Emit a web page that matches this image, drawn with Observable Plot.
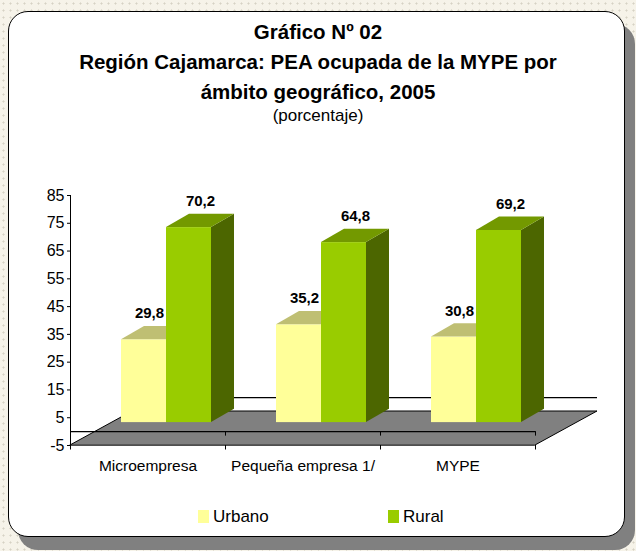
<!DOCTYPE html>
<html>
<head>
<meta charset="utf-8">
<script src="https://cdn.jsdelivr.net/npm/d3@7"></script>
<script src="https://cdn.jsdelivr.net/npm/@observablehq/plot@0.6"></script>
<style>
html, body { margin: 0; padding: 0; }
body {
  width: 636px; height: 551px; overflow: hidden; position: relative;
  font-family: "Liberation Sans", Arial, sans-serif;
  background-color: #f6f3e9;
  background-image: radial-gradient(circle, #d6d2c4 0.8px, transparent 1.3px);
  background-size: 7px 7px;
}
#frame {
  position: absolute; left: 8px; top: 11px; width: 615px; height: 524px;
  border: 1.5px solid #000; border-radius: 20px; background: #fff;
  box-shadow: 10px 13px 0 0 #808080;
}
.t { position: absolute; left: 0; width: 636px; text-align: center; color: #000; white-space: nowrap; }
.h { font-weight: bold; font-size: 20.5px; line-height: 30px; }
.s { font-size: 17px; line-height: 20px; }
#chart { position: absolute; left: 10px; top: 180px; }
.sw { position: absolute; width: 11px; height: 13px; top: 510px; }
.lt { position: absolute; top: 507px; font-size: 17px; line-height: 20px; color: #000; white-space: nowrap; }
</style>
</head>
<body>
<div id="frame"></div>
<div class="t h" style="top:17px">Gráfico Nº 02</div>
<div class="t h" style="top:47px">Región Cajamarca: PEA ocupada de la MYPE por</div>
<div class="t h" style="top:77px">ámbito geográfico, 2005</div>
<div class="t s" style="top:106px">(porcentaje)</div>
<div id="chart"></div>
<div class="sw" style="left:198px;background:#FFFF99"></div>
<div class="lt" style="left:213px">Urbano</div>
<div class="sw" style="left:388px;background:#99CC00"></div>
<div class="lt" style="left:403px">Rural</div>
<script>
// ---- data ----
const categories = ["Microempresa", "Pequeña empresa 1/", "MYPE"];
const series = ["Urbano", "Rural"];
const urbano = [29.8, 35.2, 30.8];
const rural = [70.2, 64.8, 69.2];
const yTicks = [-5, 5, 15, 25, 35, 45, 55, 65, 75, 85];

// ---- styles ----
const colors = {
  Urbano: { front: "#FFFF99", top: "#BFBF73", side: "#80804C" },
  Rural:  { front: "#99CC00", top: "#739900", side: "#4C6600" }
};

// ---- 3D projection geometry (px converted to data units) ----
const PX = 155, PY = 250 / 90;
const floorDX = 62 / PX, floorDY = 34 / PY;
const barOffX = 18.5 / PX, barOffY = 9 / PY;
const depthX = 23 / PX, depthY = 13.3 / PY;
const barW = 45 / PX;
const tickLen = 4.5 / PY;

const valuesOf = { Urbano: urbano, Rural: rural };
const bars = [];
categories.forEach((c, i) => {
  const center = i + 0.5 + barOffX;
  series.forEach((s, j) => {
    const v = valuesOf[s][i];
    const x1 = center + (j - 1) * barW;
    bars.push({ cat: c, series: s, value: v, id: s + i, x1, x2: x1 + barW, y1: barOffY, y2: v + barOffY });
  });
});

const fmt = v => d3.format(".1f")(v).replace(".", ",");

function faceMarks(s) {
  const b = bars.filter(d => d.series === s);
  const tops = b.flatMap(d => [
    { id: d.id, y: d.y2, x1: d.x1, x2: d.x2 },
    { id: d.id, y: d.y2 + depthY, x1: d.x1 + depthX, x2: d.x2 + depthX }
  ]);
  const sides = b.flatMap(d => [
    { id: d.id, x: d.x2, y1: d.y1, y2: d.y2 },
    { id: d.id, x: d.x2 + depthX, y1: d.y1 + depthY, y2: d.y2 + depthY }
  ]);
  return [
    Plot.rect(b, { x1: "x1", x2: "x2", y1: "y1", y2: "y2", fill: colors[s].front }),
    Plot.areaY(sides, { x: "x", y1: "y1", y2: "y2", z: "id", fill: colors[s].side }),
    Plot.areaX(tops, { y: "y", x1: "x1", x2: "x2", z: "id", fill: colors[s].top })
  ];
}

const floor = [
  { y: -5, x1: 0, x2: categories.length },
  { y: -5 + floorDY, x1: floorDX, x2: categories.length + floorDX }
];
const n = categories.length;
const catIdx = d3.range(n + 1);

const chart = Plot.plot({
  width: 610,
  height: 300,
  marginLeft: 60,
  marginRight: 85,
  marginTop: 15,
  marginBottom: 35,
  style: { background: "transparent", fontFamily: "Liberation Sans, Arial, sans-serif", fontSize: "16px", color: "#000", overflow: "visible" },
  x: { domain: [0, n], axis: null },
  y: { domain: [-5, 85], ticks: yTicks, tickSize: 3, tickPadding: 3, tickFormat: d => String(d), label: null },
  marks: [
    Plot.areaX(floor, { y: "y", x1: "x1", x2: "x2", fill: "#808080", stroke: "#000", strokeWidth: 1 }),
    Plot.ruleY([0], { x1: 0, x2: n, stroke: "#000", strokeWidth: 1.2 }),
    Plot.ruleY([floorDY], { x1: floorDX, x2: n + floorDX, stroke: "#000", strokeWidth: 1.2 }),
    Plot.ruleX(catIdx.slice(1), { y1: 0, y2: -tickLen, stroke: "#000" }),
    Plot.ruleX(catIdx, { y1: -5, y2: -5 - tickLen, stroke: "#000" }),
    Plot.ruleX([0], { y1: -5, y2: 85, stroke: "#000" }),
    ...faceMarks("Urbano"),
    ...faceMarks("Rural"),
    Plot.text(bars.filter(d => d.series === "Urbano"), {
      x: d => (d.x1 + d.x2) / 2 + depthX / 2, y: d => d.y2 + depthY, text: d => fmt(d.value),
      dy: -13, dx: -6, fontSize: 15, fontWeight: "bold", fill: "#000"
    }),
    Plot.text(bars.filter(d => d.series === "Rural"), {
      x: d => (d.x1 + d.x2) / 2 + depthX / 2, y: d => d.y2 + depthY, text: d => fmt(d.value),
      dy: -13, fontSize: 15, fontWeight: "bold", fill: "#000"
    }),
    Plot.text(categories, { x: (d, i) => i + 0.5, y: -5, dy: 21, text: d => d, fontSize: 15.5, fill: "#000" })
  ]
});
document.getElementById("chart").appendChild(chart);
</script>
</body>
</html>
